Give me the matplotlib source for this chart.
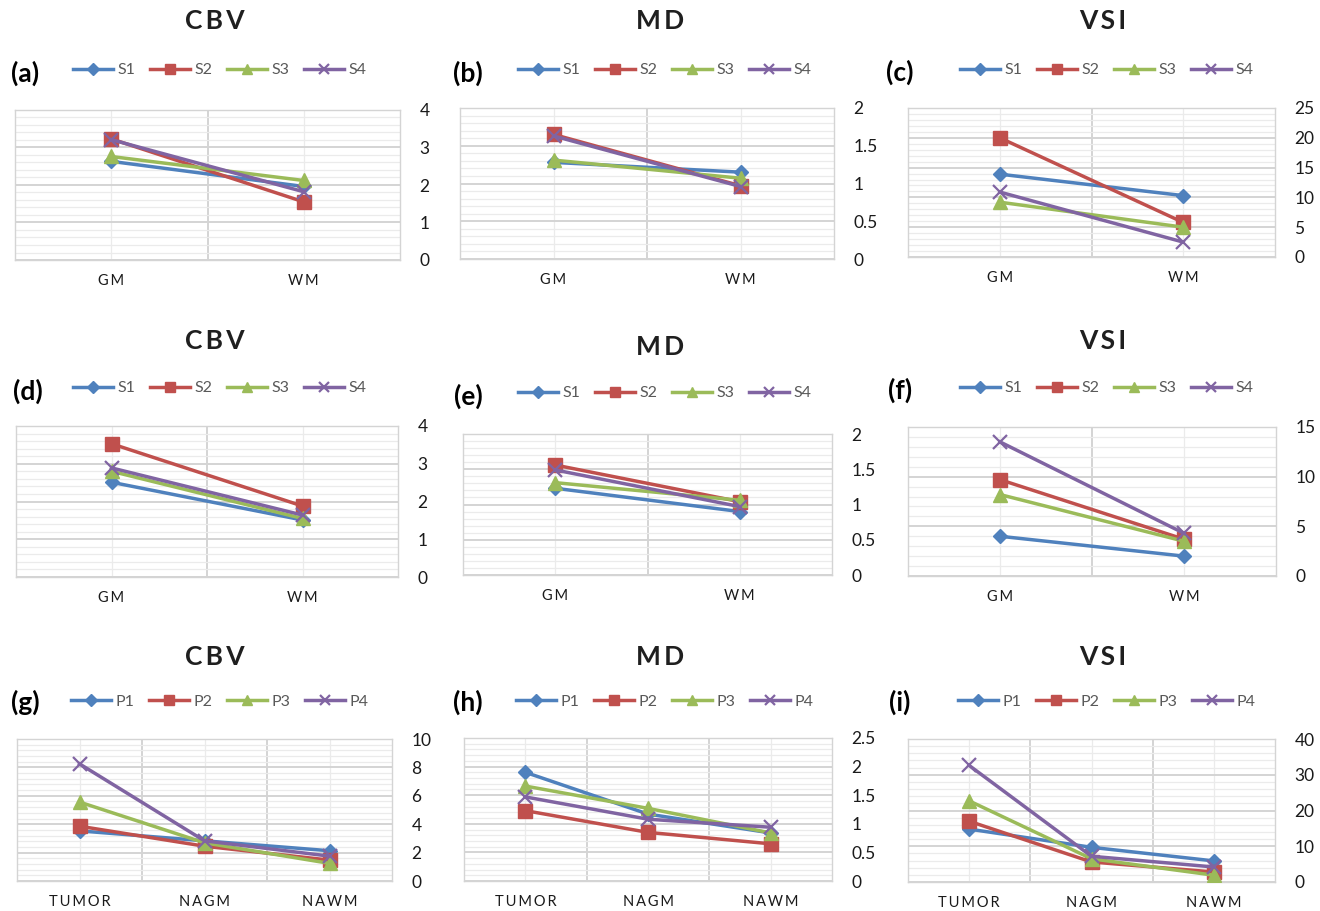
import matplotlib
matplotlib.use("Agg")
import matplotlib.pyplot as plt
from matplotlib.ticker import MultipleLocator, FuncFormatter

plt.rcParams['font.family'] = ['Lato', 'DejaVu Sans']

W, H = 1320, 911

# ---- data ----
cats_healthy = ["GM", "WM"]
cats_patient = ["TUMOR", "NAGM", "NAWM"]
subjects = ["S1", "S2", "S3", "S4"]
patients = ["P1", "P2", "P3", "P4"]

# row 1
cbv_a = [[2.63, 1.96], [3.23, 1.55], [2.76, 2.12], [3.21, 1.82]]
md_b = [[1.28, 1.15], [1.65, 0.97], [1.31, 1.07], [1.63, 0.96]]
vsi_c = [[13.9, 10.3], [20.0, 5.8], [9.2, 5.0], [10.9, 2.5]]
# row 2
cbv_d = [[2.51, 1.51], [3.53, 1.88], [2.80, 1.55], [2.89, 1.64]]
md_e = [[1.23, 0.90], [1.56, 1.04], [1.31, 1.06], [1.49, 0.97]]
vsi_f = [[4.0, 2.0], [9.7, 3.7], [8.2, 3.5], [13.5, 4.3]]
# row 3
cbv_g = [[3.53, 2.83, 2.13], [3.86, 2.45, 1.47], [5.56, 2.69, 1.24], [8.25, 2.83, 1.75]]
md_h = [[1.90, 1.17, 0.84], [1.23, 0.85, 0.65], [1.66, 1.27, 0.84], [1.47, 1.08, 0.94]]
vsi_i = [[14.8, 9.7, 5.9], [17.0, 5.6, 2.8], [22.7, 6.5, 1.9], [32.6, 7.2, 4.2]]

colors = ["#4F81BD", "#C0504D", "#9BBB59", "#8064A2"]
markers = ["D", "s", "^", "x"]
msizes = [7.5, 9.5, 9.5, 9.5]

# panel specs: label, title, data, categories, series names, ymax, ystep,
# box (px), title pos, label pos, legend pos
panels = [
    ("(a)", "CBV", cbv_a, cats_healthy, subjects, 4, 1, (15, 110, 400, 260), (215, 21), (25, 73), (220, 70)),
    ("(b)", "MD", md_b, cats_healthy, subjects, 2, 0.5, (460, 108, 834, 259), (660, 21), (468, 73), (665, 70)),
    ("(c)", "VSI", vsi_c, cats_healthy, subjects, 25, 5, (908, 108, 1275, 257), (1103, 21), (900, 72), (1107, 70)),
    ("(d)", "CBV", cbv_d, cats_healthy, subjects, 4, 1, (16, 426, 398, 577), (215, 341), (28, 391), (220, 388)),
    ("(e)", "MD", md_e, cats_healthy, subjects, 2, 0.5, (463, 434, 832, 575), (660, 347), (468, 396), (665, 393)),
    ("(f)", "VSI", vsi_f, cats_healthy, subjects, 15, 5, (908, 427, 1276, 576), (1103, 341), (900, 390), (1107, 388)),
    ("(g)", "CBV", cbv_g, cats_patient, patients, 10, 2, (17, 739, 392, 881), (215, 657), (25, 702), (220, 702)),
    ("(h)", "MD", md_h, cats_patient, patients, 2.5, 0.5, (464, 738, 832, 881), (660, 657), (468, 702), (665, 702)),
    ("(i)", "VSI", vsi_i, cats_patient, patients, 40, 10, (908, 739, 1275, 882), (1103, 657), (900, 702), (1107, 702)),
]


def spaced(s):
    return "\u2009".join(s)


fig = plt.figure(figsize=(W / 100, H / 100), dpi=100)

for label, title, data, cats, names, ymax, ystep, box, tpos, lpos, legpos in panels:
    x0, y0, x1, y1 = box
    ax = fig.add_axes([x0 / W, 1 - y1 / H, (x1 - x0) / W, (y1 - y0) / H])
    xs = list(range(len(cats)))
    handles = []
    for vals, name, c, m, ms in zip(data, names, colors, markers, msizes):
        mew = 1.6 if m == "x" else 1
        h, = ax.plot(xs, vals, color=c, lw=2.5, marker=m, ms=ms,
                     mec=c, mfc=c, mew=mew, label=name, zorder=3)
        handles.append(h)

    ax.set_xlim(-0.5, len(cats) - 0.5)
    ax.set_ylim(0, ymax)
    ax.yaxis.tick_right()
    ax.yaxis.set_major_locator(MultipleLocator(ystep))
    ax.yaxis.set_minor_locator(MultipleLocator(ystep / 5))
    ax.yaxis.set_major_formatter(FuncFormatter(lambda v, p: f"{v:g}"))
    # category boundaries are the major vertical grid, categories the minor
    ax.set_xticks([i + 0.5 for i in xs[:-1]])
    ax.set_xticks(xs, minor=True)
    ax.set_xticklabels([])
    ax.set_xticklabels([spaced(c) for c in cats], minor=True)
    ax.tick_params(axis="both", which="both", length=0)
    ax.tick_params(axis="y", pad=14, labelsize=12.5, labelcolor="#1a1a1a")
    ax.tick_params(axis="x", which="minor", pad=10, labelsize=10.5, labelcolor="#1a1a1a")
    ax.grid(True, which="major", color="#d4d4d4", lw=1.4, zorder=0)
    ax.grid(True, which="minor", color="#ebebeb", lw=0.9, zorder=0)
    for sp in ax.spines.values():
        sp.set_color("#d4d4d4")
        sp.set_linewidth(1.0)
    ax.set_axisbelow(True)

    fig.text(tpos[0] / W, 1 - tpos[1] / H, spaced(title), ha="center", va="center",
             fontsize=19, fontweight="bold", color="#1f1f1f")
    fig.text(lpos[0] / W, 1 - lpos[1] / H, label, ha="center", va="center",
             fontsize=19, fontweight="bold", color="black")
    leg = fig.legend(handles=handles, loc="center", ncol=4,
                     bbox_to_anchor=(legpos[0] / W, 1 - legpos[1] / H),
                     frameon=False, fontsize=11.5, handlelength=2.5,
                     handletextpad=0.3, columnspacing=0.9, markerscale=0.75,
                     borderaxespad=0, borderpad=0)
    for t in leg.get_texts():
        t.set_color("#595959")

fig.savefig("out.png", dpi=100)
